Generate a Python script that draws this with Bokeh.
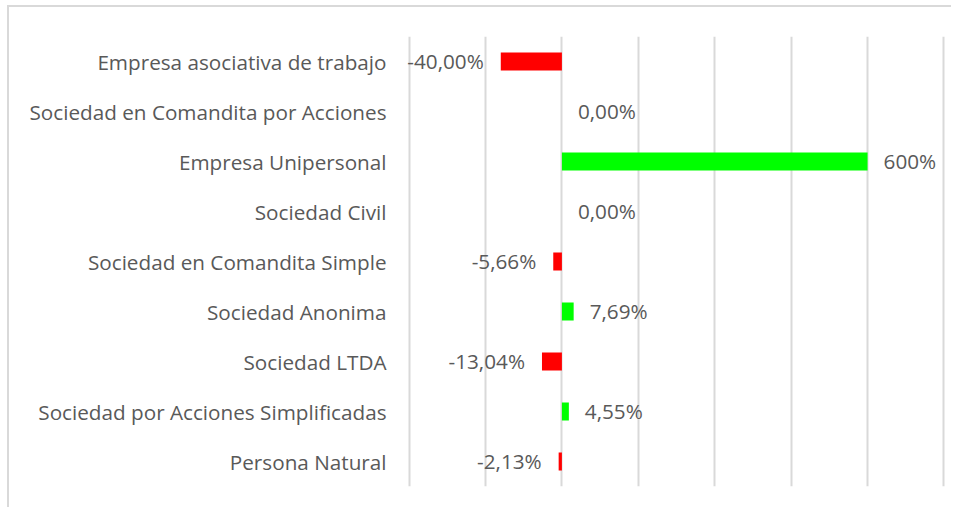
from bokeh.plotting import figure
from bokeh.models import ColumnDataSource, FactorRange, Range1d, FixedTicker
from bokeh.embed import file_html
from bokeh.resources import INLINE
from bokeh.core.properties import value

categories = [
    "Empresa asociativa de trabajo",
    "Sociedad en Comandita por Acciones",
    "Empresa Unipersonal",
    "Sociedad Civil",
    "Sociedad en Comandita Simple",
    "Sociedad Anonima",
    "Sociedad LTDA",
    "Sociedad por Acciones Simplificadas",
    "Persona Natural",
]
bar_values = [-40.0, 0.0, 200.0, 0.0, -5.66, 7.69, -13.04, 4.55, -2.13]
value_labels = ["-40,00%", "0,00%", "600%", "0,00%", "-5,66%", "7,69%", "-13,04%", "4,55%", "-2,13%"]
grid_ticks = [-100, -50, 0, 50, 100, 150, 200, 250]

FONT = "Open Sans"
FONT_SIZE = "20.7px"
TEXT_COLOR = "#595959"

colors = ["#FF0000" if v < 0 else "#00FF00" for v in bar_values]
offsets = [-17 if v < 0 else 16 for v in bar_values]
aligns = ["right" if v < 0 else "left" for v in bar_values]

src = ColumnDataSource(dict(cat=categories, val=bar_values, lab=value_labels,
                            color=colors, off=offsets, align=aligns))

p = figure(width=944, height=502, output_backend="svg", toolbar_location=None,
           y_range=FactorRange(factors=list(reversed(categories))),
           x_range=Range1d(-103, 251),
           min_border_left=395, min_border_right=8, min_border_top=29, min_border_bottom=23)

p.hbar(y="cat", left=0, right="val", height=0.36, color="color", line_color=None, source=src)
p.text(x="val", y="cat", text="lab", x_offset="off", y_offset=-1, text_align="align",
       text_baseline="middle", text_font=value(FONT), text_font_size=FONT_SIZE,
       text_color=TEXT_COLOR, source=src)

p.xaxis.visible = False
p.xaxis.ticker = FixedTicker(ticks=grid_ticks)
p.xgrid.ticker = FixedTicker(ticks=grid_ticks)
p.xgrid.grid_line_color = "#d9d9d9"
p.xgrid.grid_line_width = 2
p.ygrid.visible = False

p.yaxis.axis_line_color = None
p.yaxis.major_tick_line_color = None
p.yaxis.minor_tick_line_color = None
p.yaxis.major_label_standoff = 12
p.yaxis.major_label_text_font = FONT
p.yaxis.major_label_text_font_size = FONT_SIZE
p.yaxis.major_label_text_color = TEXT_COLOR

p.outline_line_color = None
p.background_fill_color = "white"
p.border_fill_color = "white"
p.styles = {"margin-left": "7px", "margin-top": "5px",
            "border-left": "2px solid #d9d9d9", "border-top": "2px solid #d9d9d9"}

open("out.html", "w").write(file_html(p, INLINE))
